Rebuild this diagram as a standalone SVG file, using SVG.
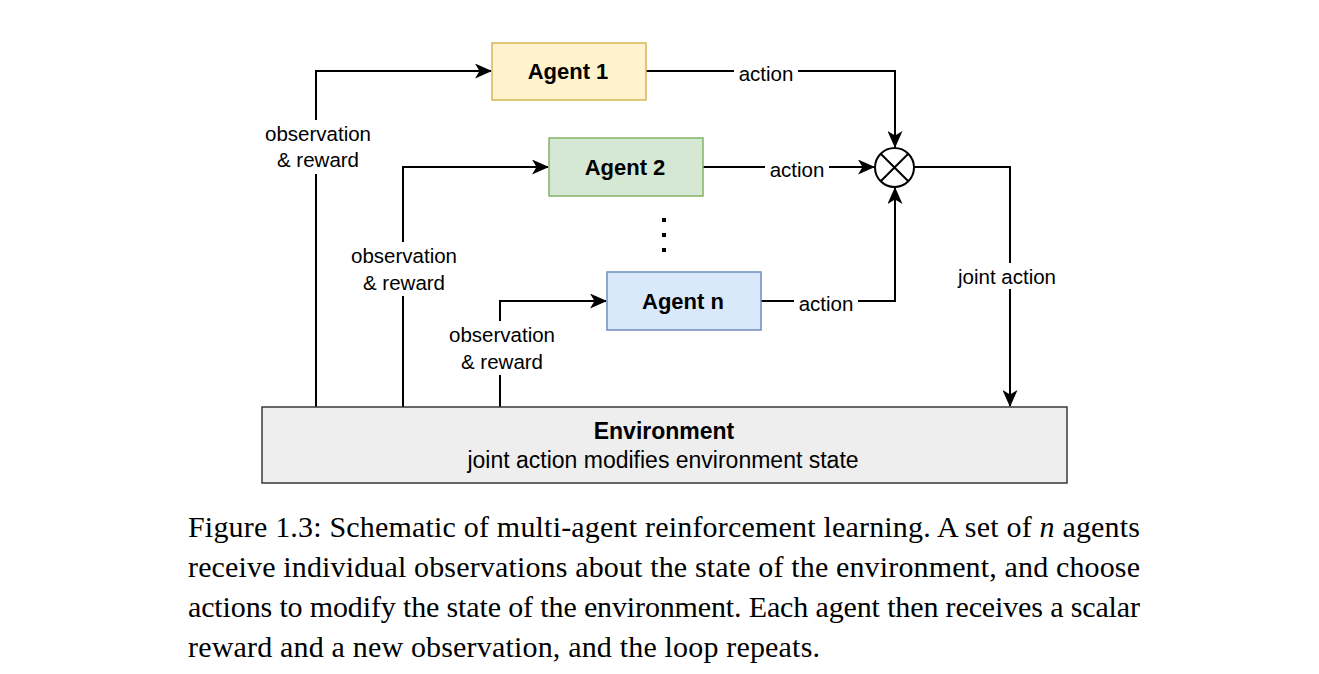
<svg xmlns="http://www.w3.org/2000/svg" width="1319" height="674" viewBox="0 0 1319 674">
<style>
.lbl{font-family:"Liberation Sans",Arial,sans-serif;font-size:20.5px;fill:#000;text-anchor:middle;dominant-baseline:central}
.nt{font-family:"Liberation Sans",Arial,sans-serif;font-size:22px;font-weight:bold;fill:#000;text-anchor:middle;dominant-baseline:central}
.env{font-family:"Liberation Sans",Arial,sans-serif;font-size:23px;fill:#000;text-anchor:middle;dominant-baseline:central}
.cap{font-family:"Liberation Serif","Times New Roman",serif;font-size:30px;fill:#000}
.ln{fill:none;stroke:#000;stroke-width:2}
.bg{fill:#fff}
</style>
<defs>
<marker id="ah" viewBox="0 0 17 15" refX="16" refY="7.5" markerWidth="17" markerHeight="15" markerUnits="userSpaceOnUse" orient="auto">
<path d="M0,0 L17,7.5 L0,15 L4.5,7.5 Z" fill="#000"/>
</marker>
</defs>
<rect width="1319" height="674" fill="#fff"/>
<g id="connectors">
<path class="ln" d="M316,407 V71 H491" marker-end="url(#ah)"/>
<path class="ln" d="M403,407 V167 H548" marker-end="url(#ah)"/>
<path class="ln" d="M500,407 V301 H606" marker-end="url(#ah)"/>
<path class="ln" d="M646,71 H895 V147" marker-end="url(#ah)"/>
<path class="ln" d="M703,167 H874" marker-end="url(#ah)"/>
<path class="ln" d="M761,301 H895 V188" marker-end="url(#ah)"/>
<path class="ln" d="M914,167 H1010 V406" marker-end="url(#ah)"/>
<rect class="bg" x="262" y="120" width="112" height="54"/>
<text class="lbl" x="318" y="133">observation</text>
<text class="lbl" x="318" y="159">&amp; reward</text>
<rect class="bg" x="348" y="242" width="112" height="54"/>
<text class="lbl" x="404" y="255">observation</text>
<text class="lbl" x="404" y="282">&amp; reward</text>
<rect class="bg" x="446" y="321" width="112" height="54"/>
<text class="lbl" x="502" y="334">observation</text>
<text class="lbl" x="502" y="361">&amp; reward</text>
<rect class="bg" x="734" y="60" width="64" height="26"/>
<text class="lbl" x="766" y="73">action</text>
<rect class="bg" x="765" y="156" width="64" height="26"/>
<text class="lbl" x="797" y="169">action</text>
<rect class="bg" x="794" y="290" width="64" height="26"/>
<text class="lbl" x="826" y="303">action</text>
<rect class="bg" x="953" y="263" width="108" height="26"/>
<text class="lbl" x="1007" y="276">joint action</text>
</g>
<g id="agent1">
<rect x="492" y="43" width="154" height="57" fill="#fff2cc" stroke="#d6b656" stroke-width="1.5"/>
<text class="nt" x="568" y="71.5">Agent 1</text>
</g>
<g id="agent2">
<rect x="549" y="138" width="154" height="58" fill="#d5e8d4" stroke="#82b366" stroke-width="1.5"/>
<text class="nt" x="625" y="167">Agent 2</text>
</g>
<g id="dots">
<rect x="662" y="218" width="4" height="4" fill="#000"/>
<rect x="662" y="233" width="4" height="4" fill="#000"/>
<rect x="662" y="248" width="4" height="4" fill="#000"/>
</g>
<g id="agentn">
<rect x="607" y="272" width="154" height="58" fill="#dae8fc" stroke="#6c8ebf" stroke-width="1.5"/>
<text class="nt" x="683" y="301">Agent n</text>
</g>
<g id="combiner">
<circle cx="894.5" cy="167.5" r="19.5" fill="#fff" stroke="#000" stroke-width="2"/>
<path d="M880.7,153.7 L908.3,181.3 M908.3,153.7 L880.7,181.3" stroke="#000" stroke-width="2"/>
</g>
<g id="environment">
<rect x="262" y="407" width="805" height="76" fill="#eeeeee" stroke="#36393d" stroke-width="1.5"/>
<text class="env" x="664" y="431" font-weight="bold">Environment</text>
<text class="env" x="663" y="460">joint action modifies environment state</text>
</g>
<g id="caption">
<text class="cap" x="188" y="537" textLength="952" lengthAdjust="spacing">Figure 1.3: Schematic of multi-agent reinforcement learning. A set of <tspan font-style="italic">n</tspan> agents</text>
<text class="cap" x="188" y="577" textLength="952" lengthAdjust="spacing">receive individual observations about the state of the environment, and choose</text>
<text class="cap" x="188" y="617" textLength="952" lengthAdjust="spacing">actions to modify the state of the environment. Each agent then receives a scalar</text>
<text class="cap" x="188" y="657" textLength="632" lengthAdjust="spacing">reward and a new observation, and the loop repeats.</text>
</g>
</svg>
